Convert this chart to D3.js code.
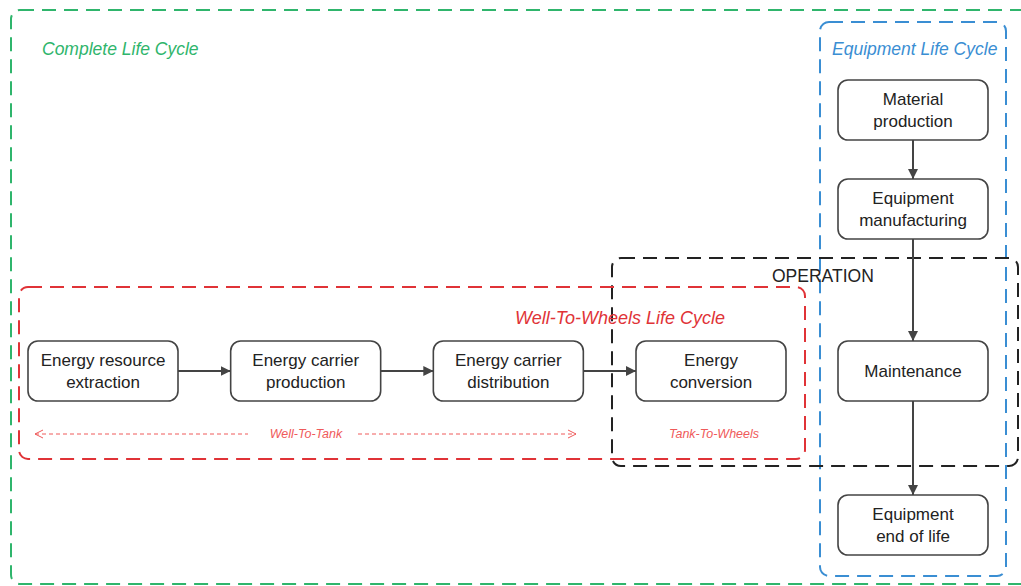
<!DOCTYPE html>
<html>
<head>
<meta charset="utf-8">
<script src="https://cdn.jsdelivr.net/npm/d3@7/dist/d3.min.js"></script>
<style>
  html, body { margin: 0; padding: 0; background: #fff; }
  svg { display: block; font-family: "Liberation Sans", Arial, sans-serif; }
</style>
</head>
<body>
<div id="chart"></div>
<script>
// stages of the well-to-wheels chain (left to right)
var rowStages = [
  ["Energy resource", "extraction"],
  ["Energy carrier", "production"],
  ["Energy carrier", "distribution"],
  ["Energy", "conversion"]
];
// stages of the equipment life cycle (top to bottom)
var columnStages = [
  ["Material", "production"],
  ["Equipment", "manufacturing"],
  ["Maintenance"],
  ["Equipment", "end of life"]
];
// dashed regions
var regionNames = ["Complete Life Cycle", "Equipment Life Cycle", "OPERATION", "Well-To-Wheels Life Cycle"];
var subLabels = ["Well-To-Tank", "Tank-To-Wheels"];

var W = 1021, H = 586;
var svg = d3.select("#chart").append("svg").attr("width", W).attr("height", H);

var defs = svg.append("defs");
defs.append("marker")
  .attr("id", "arrow")
  .attr("viewBox", "0 0 10 10")
  .attr("refX", 10).attr("refY", 5)
  .attr("markerWidth", 5).attr("markerHeight", 5)
  .attr("markerUnits", "strokeWidth")
  .attr("orient", "auto")
  .append("path").attr("d", "M0,0L10,5L0,10Z").attr("fill", "#444");
defs.append("marker")
  .attr("id", "chev")
  .attr("viewBox", "0 0 10 10")
  .attr("refX", 9).attr("refY", 5)
  .attr("markerWidth", 10).attr("markerHeight", 10)
  .attr("markerUnits", "userSpaceOnUse")
  .attr("orient", "auto-start-reverse")
  .append("path").attr("d", "M1,1L9,5L1,9").attr("fill", "none")
  .attr("stroke", "#ef5a5a").attr("stroke-width", 1);

var boxW = 150, boxH = 60;
var rowY = 371;
var colX = 913;
var x = d3.scaleLinear().domain([0, rowStages.length - 1]).range([103, 711]);
var y = d3.scaleOrdinal().domain(d3.range(columnStages.length)).range([110, 209, 371, 525]);

// regions
var regions = [
  {name: regionNames[0], x0: 11, y0: 10, x1: 1030, y1: 584, color: "#2fb56c", tx: 42, ty: 55, italic: true, size: 17.5},
  {name: regionNames[1], x0: 820, y0: 22, x1: 1006, y1: 576, color: "#3a8ed3", tx: 832, ty: 55, italic: true, size: 17.5},
  {name: regionNames[2], x0: 612, y0: 258, x1: 1018, y1: 466, color: "#222", tx: 772, ty: 282, italic: false, size: 17.5},
  {name: regionNames[3], x0: 19, y0: 287, x1: 805, y1: 459, color: "#e03337", tx: 515, ty: 324, italic: true, size: 18}
];

svg.selectAll("rect.region").data(regions).enter().append("rect")
  .attr("class", "region")
  .attr("x", function(d){ return d.x0; })
  .attr("y", function(d){ return d.y0; })
  .attr("width", function(d){ return d.x1 - d.x0; })
  .attr("height", function(d){ return d.y1 - d.y0; })
  .attr("rx", 9)
  .attr("fill", "none")
  .attr("stroke", function(d){ return d.color; })
  .attr("stroke-width", 2)
  .attr("stroke-dasharray", "14,8");

svg.selectAll("text.region").data(regions).enter().append("text")
  .attr("class", "region")
  .attr("x", function(d){ return d.tx; })
  .attr("y", function(d){ return d.ty; })
  .attr("fill", function(d){ return d.color; })
  .attr("font-size", function(d){ return d.size; })
  .attr("font-style", function(d){ return d.italic ? "italic" : "normal"; })
  .text(function(d){ return d.name; });

// connectors along the row
var g = svg.append("g");
d3.range(rowStages.length - 1).forEach(function(i){
  g.append("line")
    .attr("x1", x(i) + boxW / 2).attr("y1", rowY)
    .attr("x2", x(i + 1) - boxW / 2).attr("y2", rowY)
    .attr("stroke", "#444").attr("stroke-width", 2)
    .attr("marker-end", "url(#arrow)");
});
d3.range(columnStages.length - 1).forEach(function(i){
  g.append("line")
    .attr("x1", colX).attr("y1", y(i) + boxH / 2)
    .attr("x2", colX).attr("y2", y(i + 1) - boxH / 2)
    .attr("stroke", "#444").attr("stroke-width", 2)
    .attr("marker-end", "url(#arrow)");
});

// well-to-tank dashed double arrow
var wtt = svg.append("g");
wtt.append("line")
  .attr("x1", 35).attr("y1", 434).attr("x2", 248).attr("y2", 434)
  .attr("stroke", "#ef5a5a").attr("stroke-width", 1).attr("stroke-dasharray", "4,3")
  .attr("marker-start", "url(#chev)");
wtt.append("line")
  .attr("x1", 358).attr("y1", 434).attr("x2", 576).attr("y2", 434)
  .attr("stroke", "#ef5a5a").attr("stroke-width", 1).attr("stroke-dasharray", "4,3")
  .attr("marker-end", "url(#chev)");
svg.selectAll("text.sub").data(subLabels).enter().append("text")
  .attr("class", "sub")
  .attr("x", function(d, i){ return i === 0 ? 306 : 714; })
  .attr("y", 438)
  .attr("text-anchor", "middle")
  .attr("font-size", 12.5)
  .attr("font-style", "italic")
  .attr("fill", "#ef5a5a")
  .text(function(d){ return d; });

// stage boxes
function drawBox(cx, cy, lines){
  var b = svg.append("g").attr("transform", "translate(" + cx + "," + cy + ")");
  b.append("rect")
    .attr("x", -boxW / 2).attr("y", -boxH / 2)
    .attr("width", boxW).attr("height", boxH)
    .attr("rx", 10)
    .attr("fill", "#fff").attr("stroke", "#444").attr("stroke-width", 1.6);
  var t = b.append("text").attr("text-anchor", "middle").attr("font-size", 17).attr("fill", "#222");
  lines.forEach(function(l, i){
    t.append("tspan").attr("x", 0)
      .attr("y", (i - (lines.length - 1) / 2) * 22 + 6)
      .text(l);
  });
}
rowStages.forEach(function(s, i){ drawBox(x(i), rowY, s); });
columnStages.forEach(function(s, i){ drawBox(colX, y(i), s); });
</script>
</body>
</html>
